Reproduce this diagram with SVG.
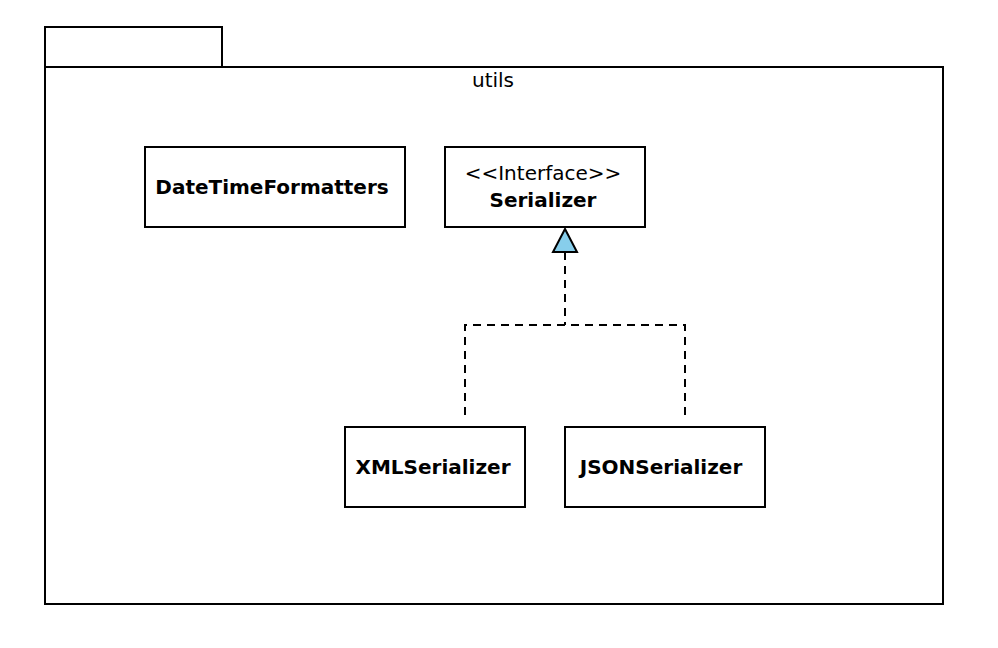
<svg xmlns="http://www.w3.org/2000/svg" width="998" height="648" viewBox="0 0 998 648">
<style>
.box{fill:#fff;stroke:#000;stroke-width:2}
.t{font-family:"DejaVu Sans",sans-serif;font-size:20px;text-anchor:middle;fill:#000}
.b{font-weight:bold}
.dash{fill:none;stroke:#000;stroke-width:2;stroke-dasharray:8,6}
</style>
<rect width="998" height="648" fill="#fff"/>
<g id="pkg-utils">
<rect class="box" x="45" y="27" width="177" height="40"/>
<rect class="box" x="45" y="67" width="898" height="537"/>
<text class="t" x="493" y="87">utils</text>
</g>
<g id="DateTimeFormatters">
<rect class="box" x="145" y="147" width="260" height="80"/>
<text class="t b" x="272" y="194">DateTimeFormatters</text>
</g>
<g id="Serializer">
<rect class="box" x="445" y="147" width="200" height="80"/>
<text class="t" x="543" y="180">&lt;&lt;Interface&gt;&gt;</text>
<text class="t b" x="543" y="207">Serializer</text>
</g>
<g id="XMLSerializer">
<rect class="box" x="345" y="427" width="180" height="80"/>
<text class="t b" x="433" y="474">XMLSerializer</text>
</g>
<g id="JSONSerializer">
<rect class="box" x="565" y="427" width="200" height="80"/>
<text class="t b" x="661" y="474">JSONSerializer</text>
</g>
<g id="connectors">
<path class="dash" d="M565,252 V325"/>
<path class="dash" d="M465,415 V325 H685 V415"/>
<polygon points="565,229 553,252 577,252" fill="#87CEEB" stroke="#000" stroke-width="2"/>
</g>
</svg>
